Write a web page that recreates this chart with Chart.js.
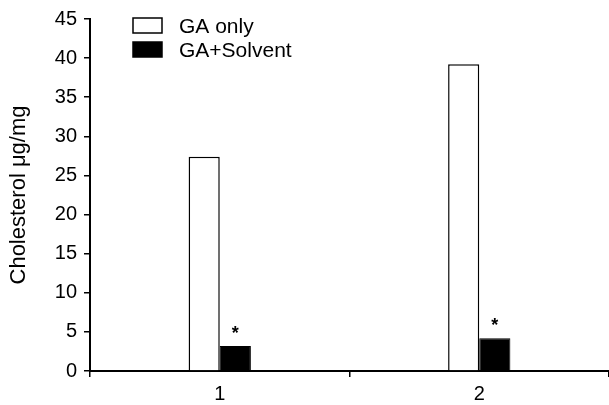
<!DOCTYPE html>
<html>
<head>
<meta charset="utf-8">
<script src="https://cdn.jsdelivr.net/npm/chart.js@4"></script>
<style>
  html, body { margin: 0; padding: 0; background: #fff; }
  #wrap { width: 609px; height: 405px; }
</style>
</head>
<body>
<div id="wrap"><canvas id="myChart"></canvas></div>
<script>
// data
const categories = ["1", "2"];
const gaOnly = [27.4, 39.2];
const gaSolvent = [3.2, 4.2];
const seriesNames = ["GA only", "GA+Solvent"];
const starMarks = ["*", "*"]; // significance marks over GA+Solvent bars

const FONT = "'Liberation Sans', Arial, sans-serif";

// legend drawn as two stacked rows like the original
const stackedLegend = {
  id: "stackedLegend",
  afterDraw(chart) {
    const ctx = chart.ctx;
    ctx.save();
    ctx.font = "21px " + FONT;
    ctx.textBaseline = "middle";
    chart.data.datasets.forEach((ds, i) => {
      const y = 18 + i * 24;
      ctx.fillStyle = ds.backgroundColor;
      ctx.fillRect(133, y, 29, 15);
      ctx.lineWidth = 1.5;
      ctx.strokeStyle = "#000";
      ctx.strokeRect(133, y, 29, 15);
      ctx.fillStyle = "#000";
      ctx.fillText(ds.label, 179, y + 9);
    });
    ctx.restore();
  }
};

// asterisks above the solvent bars
const starPlugin = {
  id: "starPlugin",
  afterDatasetsDraw(chart) {
    const ctx = chart.ctx;
    const meta = chart.getDatasetMeta(1);
    ctx.save();
    ctx.font = "bold 18px " + FONT;
    ctx.textAlign = "center";
    ctx.textBaseline = "middle";
    ctx.fillStyle = "#000";
    meta.data.forEach((bar, i) => {
      ctx.fillText(starMarks[i], bar.x, bar.y - 12);
    });
    ctx.restore();
  }
};

function main() {
  const ctx = document.getElementById("myChart").getContext("2d");
  new Chart(ctx, {
    type: "bar",
    data: {
      labels: categories,
      datasets: [
        {
          label: seriesNames[0],
          data: gaOnly,
          backgroundColor: "#ffffff",
          borderColor: "#000000",
          borderWidth: 1.5,
        },
        {
          label: seriesNames[1],
          data: gaSolvent,
          backgroundColor: "#000000",
          borderColor: "#000000",
          borderWidth: 1,
        },
      ],
    },
    options: {
      responsive: true,
      maintainAspectRatio: false,
      animation: false,
      layout: { padding: { top: 17, right: 0, left: 0, bottom: 0 } },
      datasets: {
        bar: { categoryPercentage: 0.24, barPercentage: 1.0 },
      },
      plugins: {
        legend: { display: false },
        tooltip: { enabled: false },
      },
      scales: {
        x: {
          grid: {
            display: true,
            drawOnChartArea: false,
            drawTicks: true,
            tickLength: 6,
            color: "#000",
            lineWidth: 1.5,
          },
          border: { display: true, color: "#000", width: 2 },
          ticks: {
            color: "#000",
            font: { family: FONT, size: 20 },
            padding: 5,
          },
          afterFit(scale) { scale.height = 34; },
        },
        y: {
          min: 0,
          max: 45,
          ticks: {
            stepSize: 5,
            color: "#000",
            font: { family: FONT, size: 20 },
            padding: 7,
          },
          grid: {
            display: true,
            drawOnChartArea: false,
            drawTicks: true,
            tickLength: 6,
            color: "#000",
            lineWidth: 1.5,
          },
          border: { display: true, color: "#000", width: 2 },
          title: {
            display: true,
            text: "Cholesterol μg/mg",
            color: "#000",
            font: { family: FONT, size: 22 },
            padding: { top: 6, bottom: 4 },
          },
          afterFit(scale) { scale.width = 90; },
        },
      },
    },
    plugins: [stackedLegend, starPlugin],
  });
}

document.addEventListener("DOMContentLoaded", main);
</script>
</body>
</html>
